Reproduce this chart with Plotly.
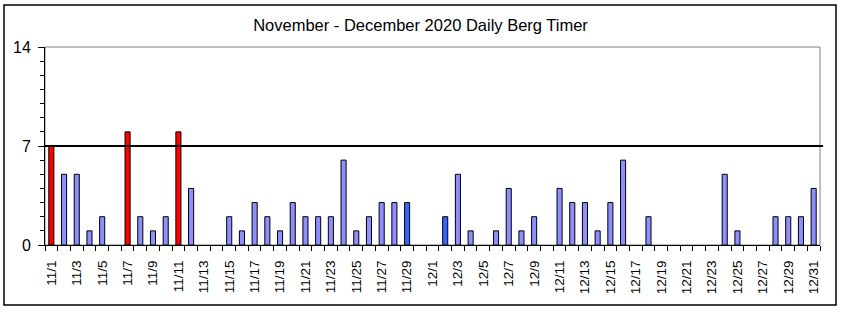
import plotly.graph_objects as go

# ---- data ----
days = [f"11/{d}" for d in range(1, 31)] + [f"12/{d}" for d in range(1, 32)]
minutes = [7, 5, 5, 1, 2, 0, 8, 2, 1, 2, 8, 4, 0, 0, 2, 1, 3, 2, 1, 3,
           2, 2, 2, 6, 1, 2, 3, 3, 3, 0,
           0, 2, 5, 1, 0, 1, 4, 1, 2, 0, 4, 3, 3, 1, 3, 6, 0, 2, 0, 0,
           0, 0, 0, 5, 1, 0, 0, 2, 2, 2, 4]
highlight_days = ["11/29", "12/2"]
threshold = 7
y_ticks = [0, 7, 14]
title_text = "November - December 2020 Daily Berg Timer"

# ---- styling derived from data ----
colors = []
for d, v in zip(days, minutes):
    if v >= threshold:
        colors.append("#FF0000")
    elif d in highlight_days:
        colors.append("#3366FF")
    else:
        colors.append("#8E8EFF")

xs = list(range(len(days)))
# zero days draw no bar (avoid flat outlines on the axis)
y_draw = [v if v > 0 else None for v in minutes]

fig = go.Figure()
fig.add_trace(go.Bar(
    x=xs, y=y_draw, width=0.4,
    marker=dict(color=colors, line=dict(color="black", width=1)),
    hoverinfo="skip",
))

W, H = 841, 313
L, R, T, B = 45, 21, 47, 68
pw, ph = W - L - R, H - T - B

fig.update_layout(
    width=W, height=H,
    margin=dict(l=L, r=R, t=T, b=B),
    paper_bgcolor="white", plot_bgcolor="white",
    showlegend=False,
    font=dict(family="Liberation Sans, Arial, sans-serif", color="black"),
    title=dict(text=title_text, x=0.5, xref="container", xanchor="center",
               y=1 - 25 / H, yref="container", yanchor="middle",
               font=dict(size=16.5, color="black")),
    xaxis=dict(
        range=[-0.5, len(days) - 0.5],
        tickmode="array", tickvals=xs[::2], ticktext=days[::2],
        tickangle=-90, ticks="", ticklabelstandoff=9,
        tickfont=dict(size=13.5),
        showline=True, linecolor="black", linewidth=1,
        showgrid=False, zeroline=False,
        minor=dict(tickmode="linear", tick0=-0.5, dtick=1, ticks="outside",
                   ticklen=5, tickcolor="black", tickwidth=1, showgrid=False),
    ),
    yaxis=dict(
        range=[0, 14], tickmode="array", tickvals=y_ticks,
        ticks="outside", ticklen=6, tickcolor="black",
        tickfont=dict(size=16), ticklabelstandoff=4,
        showline=True, linecolor="black", linewidth=1,
        showgrid=False, zeroline=False,
        minor=dict(tickmode="linear", tick0=0, dtick=1, ticks="outside",
                   ticklen=4, tickcolor="black", showgrid=False),
    ),
    shapes=[
        dict(type="rect", xref="paper", yref="paper", x0=0, x1=1, y0=0, y1=1,
             line=dict(color="#808080", width=1), layer="below"),
        dict(type="line", xref="paper", yref="y", x0=0, x1=1.004,
             y0=threshold, y1=threshold, line=dict(color="black", width=2),
             layer="above"),
        dict(type="rect", xref="paper", yref="paper",
             x0=(4 - L) / pw, x1=(836 - L) / pw,
             y0=-(305 - (T + ph)) / ph, y1=(T + ph - 5) / ph,
             line=dict(color="black", width=1.5), layer="below"),
    ],
)

fig.write_html("out.html")
